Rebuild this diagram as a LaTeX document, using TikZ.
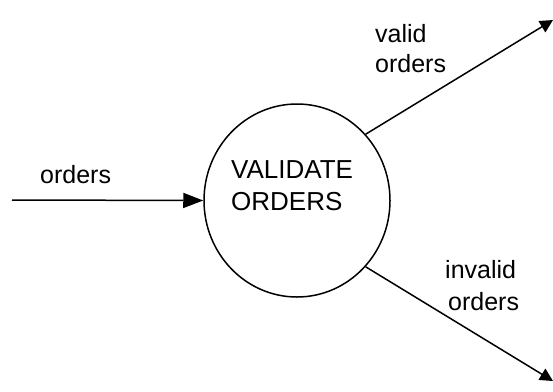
\documentclass[tikz,border=0pt]{standalone}
\usepackage{fontspec}
\setmainfont{Liberation Sans}
\usetikzlibrary{calc, positioning, shapes.geometric}
\usetikzlibrary{arrows.meta}

\begin{document}
\begin{tikzpicture}[x=1pt,y=-1pt,
    flowLine/.style={line width=1.5pt},
    flowTip/.style={-{Triangle[length=20pt,width=15pt]}},
    outTip/.style={-{Triangle[length=13pt,width=13pt]}},
    flowText/.style={font=\fontsize{25}{25}\selectfont,inner sep=0pt,anchor=base west},
    procText/.style={font=\fontsize{26}{26}\selectfont,inner sep=0pt,anchor=base west}]

\useasboundingbox (0,0) rectangle (553,391);

\node[ellipse,draw,line width=1.5pt,minimum width=186pt,minimum height=193pt,inner sep=0pt] (nProc) at (297,200.5) {};
\node[procText] (nProcA) at (231,178) {VALIDATE};
\node[procText] (nProcB) at (231,210) {ORDERS};

\coordinate (cInPt) at (12,200);
\coordinate (cValidPt) at (553,20);
\coordinate (cInvalidPt) at (553,381);

\draw[flowLine,flowTip] (cInPt) -- (nProc.west);
\draw[flowLine,outTip] (nProc.44) -- (cValidPt);
\draw[flowLine,outTip] (nProc.-44) -- (cInvalidPt);

\node[flowText] (nIn) at (40,183) {orders};
\node[flowText] (nValidA) at (375,42) {valid};
\node[flowText] (nValidB) at (375,72) {orders};
\node[flowText] (nInvalidA) at (445,278) {invalid};
\node[flowText] (nInvalidB) at (448,310) {orders};
\end{tikzpicture}
\end{document}
